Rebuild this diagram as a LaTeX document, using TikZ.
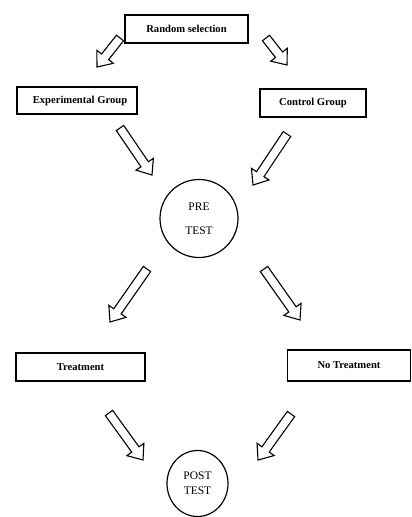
\documentclass[tikz,border=0pt]{standalone}
\usepackage{fontspec}
\setmainfont{Liberation Serif}
\usetikzlibrary{calc,shapes.geometric}
\tikzset{
  box/.style={draw, line width=1.4pt, inner sep=0pt, font=\bfseries\fontsize{10.6}{12}\selectfont},
  testcirc/.style={draw, circle, line width=1.2pt, inner sep=0pt, align=center},
  blockarrow/.style={draw, line width=1.1pt, fill=white, line join=miter},
}
\newcommand\blockarr[2]{%
  \coordinate (hb) at ($(#2)!13pt!(#1)$);
  \draw[blockarrow] ($(#1)!4.5pt!90:(#2)$) -- ($(hb)!4.5pt!-90:(#1)$) -- ($(hb)!10.5pt!-90:(#1)$) -- (#2)
     -- ($(hb)!10.5pt!90:(#1)$) -- ($(hb)!4.5pt!90:(#1)$) -- ($(#1)!4.5pt!-90:(#2)$) -- cycle;
}
\begin{document}
\begin{tikzpicture}[x=1pt,y=-1pt]
\useasboundingbox (0,0) rectangle (412,517);
% nodes
\node[box, minimum width=123pt, minimum height=28pt] (rs) at (186.5,29) {Random selection};
\node[box, minimum width=120pt, minimum height=27pt] (eg) at (77,100.5) {\hspace{6pt}Experimental Group};
\node[box, minimum width=106pt, minimum height=28pt] (cg) at (313,103) {Control Group};
\node[testcirc, minimum size=78pt, font=\fontsize{11.5}{24}\selectfont] (pre) at (199,218.5) {PRE\\TEST};
\node[box, minimum width=129pt, minimum height=28pt] (tr) at (80.5,367) {Treatment};
\node[box, minimum width=123pt, minimum height=31pt] (nt) at (349,365.5) {No Treatment};
\node[draw, ellipse, line width=1.2pt, inner sep=0pt, minimum width=61pt, minimum height=66pt, align=center,
      font=\fontsize{11.5}{15}\selectfont] (post) at (197.5,483.5) {POST\\TEST};
% arrow endpoints
\coordinate (a1s) at (120,38); \coordinate (a1e) at (97,67);
\coordinate (a2s) at (266,38); \coordinate (a2e) at (287,65);
\coordinate (a3s) at (120,128); \coordinate (a3e) at (152,175);
\coordinate (a4s) at (287,134); \coordinate (a4e) at (253,185);
\coordinate (a5s) at (147,269); \coordinate (a5e) at (110,322);
\coordinate (a6s) at (264,269); \coordinate (a6e) at (300,320);
\coordinate (a7s) at (109,413); \coordinate (a7e) at (143,460);
\coordinate (a8s) at (291,414); \coordinate (a8e) at (258,460);
\blockarr{a1s}{a1e}
\blockarr{a2s}{a2e}
\blockarr{a3s}{a3e}
\blockarr{a4s}{a4e}
\blockarr{a5s}{a5e}
\blockarr{a6s}{a6e}
\blockarr{a7s}{a7e}
\blockarr{a8s}{a8e}
\end{tikzpicture}
\end{document}
